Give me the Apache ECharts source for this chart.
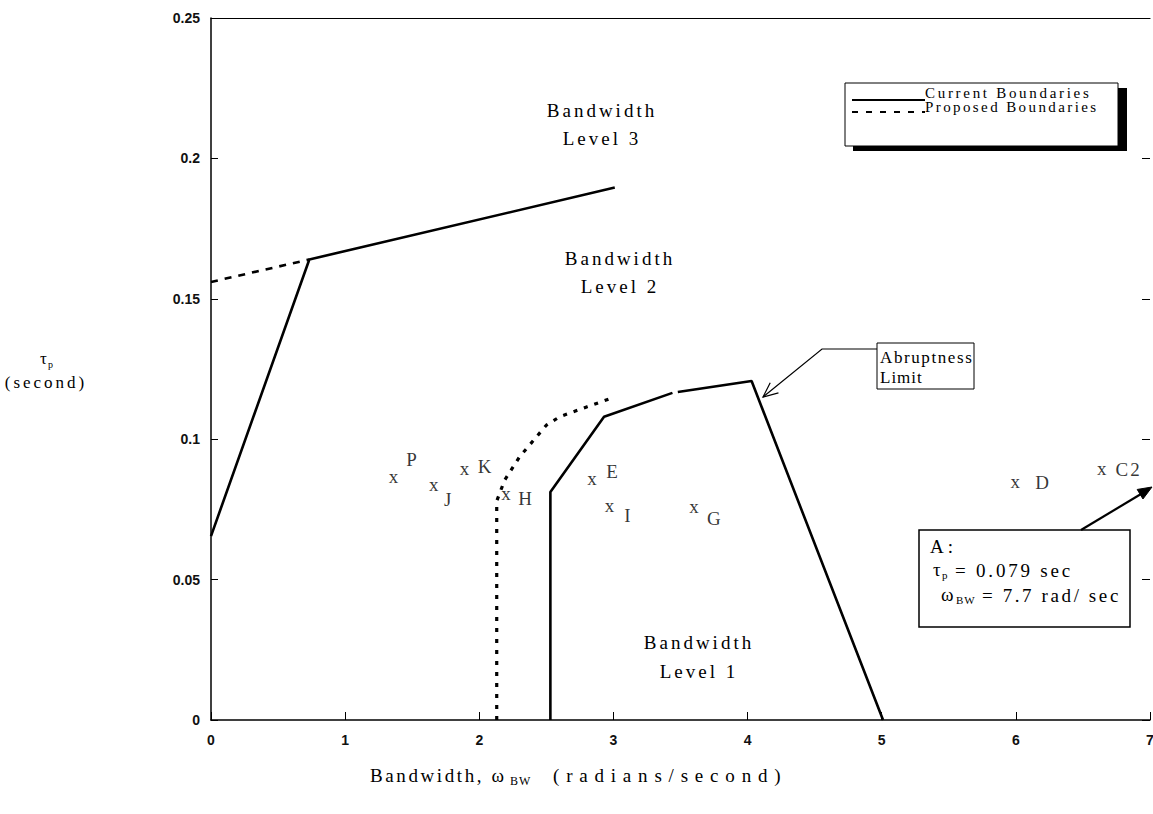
<!DOCTYPE html>
<html><head><meta charset="utf-8">
<script src="https://cdn.jsdelivr.net/npm/echarts@6/dist/echarts.min.js"></script>
<style>html,body{margin:0;padding:0;background:#fff;overflow:hidden}#c{width:1153px;height:814px}</style>
</head><body><div id="c"></div>
<script>
// ---- data ----
const xTickValues = [0, 1, 2, 3, 4, 5, 6, 7];
const yTickValues = [0, 0.05, 0.1, 0.15, 0.2, 0.25];
const currentUpper = [[0, 0.0655], [0.733, 0.164], [3.01, 0.1896]];
const proposedUpper = [[0, 0.156], [0.733, 0.164]];
const currentLevel1a = [[2.53, 0], [2.53, 0.0812], [2.93, 0.108], [3.44, 0.1165]];
const currentLevel1b = [[3.48, 0.1168], [4.03, 0.1207], [5.01, 0]];
const proposedLevel1 = [[2.13, 0], [2.13, 0.078], [2.19, 0.0855], [2.30, 0.0937], [2.50, 0.105], [2.60, 0.108], [2.80, 0.1115], [3.01, 0.115]];
const pointNames = ['P', 'J', 'K', 'H', 'E', 'I', 'G', 'D', 'C2'];
const pointX = [1.36, 1.66, 1.89, 2.20, 2.84, 2.97, 3.60, 5.995, 6.64];
const pointY = [0.0855, 0.0829, 0.0884, 0.0795, 0.0849, 0.0754, 0.075, 0.0837, 0.0884];

// ---- styling (label offsets in px) ----
const letterOffsets = [[18, -20], [14, 12], [20, -5], [19, 2], [20, -10], [18, 7], [20, 9], [27, -2], [27, -2]];
const SERIF = "'Liberation Serif', 'Times New Roman', serif";
const SANS = "'Liberation Sans', Arial, sans-serif";
const BLACK = '#000';
const spacingByText = {
  'Bandwidth': 3, 'Level 3': 3, 'Level 2': 3, 'Level 1': 3,
  'Current Boundaries': 2.7, 'Proposed Boundaries': 2.4,
  'Abruptness': 1.6, 'Limit': 1,
  'A:': 4, '= 0.079 sec': 2.8, '= 7.7 rad/ sec': 2.6,
  '(second)': 3, 'Bandwidth, ω': 2.6, '(radians/second)': 6.8, 'BW': 1, 'C2': 2
};

const chart = echarts.init(document.getElementById('c'), null, {renderer: 'svg'});

function lineSeries(data, type, width) {
  return {
    type: 'line', data: data, symbol: 'none', showSymbol: false, silent: true,
    animation: false, z: 3,
    lineStyle: {color: BLACK, width: width, type: type, cap: 'butt'}
  };
}

const option = {
  backgroundColor: '#fff',
  animation: false,
  grid: {left: 211, width: 939, top: 18, height: 702, containLabel: false, outerBoundsMode: 'none'},
  xAxis: [{
    type: 'value', position: 'bottom', min: xTickValues[0], max: xTickValues[xTickValues.length - 1], interval: 1,
    axisLine: {show: true, onZero: false, lineStyle: {color: BLACK, width: 1.5}},
    axisTick: {show: true, inside: true, length: 8, lineStyle: {color: BLACK, width: 1}},
    axisLabel: {show: true, margin: 13, color: '#111', fontFamily: SANS, fontSize: 14, fontWeight: 'bold'},
    splitLine: {show: false}
  }, {
    type: 'value', position: 'top', min: xTickValues[0], max: xTickValues[xTickValues.length - 1], interval: 1,
    axisLine: {show: true, onZero: false, lineStyle: {color: BLACK, width: 1.2}},
    axisTick: {show: false}, axisLabel: {show: false}, splitLine: {show: false}
  }],
  yAxis: [{
    type: 'value', position: 'left', min: yTickValues[0], max: yTickValues[yTickValues.length - 1], interval: 0.05,
    axisLine: {show: true, onZero: false, lineStyle: {color: BLACK, width: 1.5}},
    axisTick: {show: true, inside: true, length: 7, lineStyle: {color: BLACK, width: 1}},
    axisLabel: {show: true, margin: 11, color: '#111', fontFamily: SANS, fontSize: 14, fontWeight: 'bold',
      formatter: function (v) { return String(+v.toFixed(2)); }},
    splitLine: {show: false}
  }, {
    type: 'value', position: 'right', min: yTickValues[0], max: yTickValues[yTickValues.length - 1], interval: 0.05,
    axisLine: {show: false, onZero: false},
    axisTick: {show: true, inside: true, length: 8, lineStyle: {color: BLACK, width: 1}},
    axisLabel: {show: false}, splitLine: {show: false}
  }],
  series: [
    lineSeries(currentUpper, 'solid', 2.6),
    lineSeries(proposedUpper, [7, 7], 2.6),
    lineSeries(currentLevel1a, 'solid', 2.6),
    lineSeries(currentLevel1b, 'solid', 2.6),
    lineSeries(proposedLevel1, [4, 7], 3.2),
    {
      type: 'scatter', silent: true, symbolSize: 0, z: 4,
      data: pointX.map(function (x, i) { return [x, pointY[i]]; }),
      label: {show: true, position: 'inside', offset: [0, -3], formatter: 'x',
        color: BLACK, fontFamily: SERIF, fontSize: 19}
    },
    {
      type: 'scatter', silent: true, symbolSize: 0, z: 4,
      data: pointX.map(function (x, i) {
        return {name: pointNames[i], value: [x, pointY[i]], label: {offset: letterOffsets[i]}};
      }),
      label: {show: true, position: 'inside', formatter: '{b}',
        color: BLACK, fontFamily: SERIF, fontSize: 19}
    }
  ]
};
chart.setOption(option);

// ---- annotations ----
function txt(text, x, y, size, align) {
  return {
    type: 'text', silent: true, z: 10,
    style: {text: text, x: x, y: y, fill: BLACK, fontFamily: SERIF, fontSize: size,
      align: align || 'center', verticalAlign: 'middle'}
  };
}
function arrowHead(tip, from, len, ang) {
  const dx = from[0] - tip[0], dy = from[1] - tip[1];
  const d = Math.sqrt(dx * dx + dy * dy), ux = dx / d, uy = dy / d;
  const c = Math.cos(ang), s = Math.sin(ang);
  const p1 = [tip[0] + len * (ux * c - uy * s), tip[1] + len * (ux * s + uy * c)];
  const p2 = [tip[0] + len * (ux * c + uy * s), tip[1] + len * (-ux * s + uy * c)];
  return [p1, tip, p2];
}

const abrTip = [763, 397], abrCorner = [822, 349];
const aTip = [1152, 487], aFrom = [1081, 530];
const aHead = arrowHead(aTip, aFrom, 15, 0.38);

const graphics = [
  // region labels
  txt('Bandwidth', 602, 110, 19), txt('Level 3', 602, 138, 19),
  txt('Bandwidth', 620, 258, 19), txt('Level 2', 620, 286, 19),
  txt('Bandwidth', 699, 642, 19), txt('Level 1', 699, 671, 19),
  // legend with shadow
  {type: 'rect', silent: true, z: 8, shape: {x: 853, y: 88, width: 274, height: 63}, style: {fill: BLACK}},
  {type: 'rect', silent: true, z: 9, shape: {x: 845, y: 83, width: 273, height: 63}, style: {fill: '#fff', stroke: BLACK, lineWidth: 1}},
  {type: 'line', silent: true, z: 10, shape: {x1: 852, y1: 100, x2: 925, y2: 100}, style: {stroke: BLACK, lineWidth: 2}},
  {type: 'line', silent: true, z: 10, shape: {x1: 852, y1: 112, x2: 925, y2: 112}, style: {stroke: BLACK, lineWidth: 2, lineDash: [6, 8]}},
  txt('Current Boundaries', 925, 93, 15, 'left'),
  txt('Proposed Boundaries', 925, 107, 15, 'left'),
  // abruptness limit box + arrow
  {type: 'rect', silent: true, z: 9, shape: {x: 877, y: 343, width: 97, height: 46}, style: {fill: '#fff', stroke: BLACK, lineWidth: 1}},
  txt('Abruptness', 880, 357, 17, 'left'),
  txt('Limit', 880, 377, 17, 'left'),
  {type: 'polyline', silent: true, z: 10, shape: {points: [[877, 349], abrCorner, abrTip]}, style: {stroke: BLACK, lineWidth: 1.2, fill: null}},
  {type: 'polyline', silent: true, z: 10, shape: {points: arrowHead(abrTip, abrCorner, 16, 0.42)}, style: {stroke: BLACK, lineWidth: 1.2, fill: null}},
  // A box + arrow
  {type: 'rect', silent: true, z: 9, shape: {x: 919, y: 530, width: 211, height: 97}, style: {fill: '#fff', stroke: BLACK, lineWidth: 1.5}},
  txt('A:', 930, 546, 19, 'left'),
  txt('τ', 933, 569, 19, 'left'),
  txt('p', 942, 575, 11, 'left'),
  txt('= 0.079 sec', 955, 570, 19, 'left'),
  txt('ω', 941, 594, 19, 'left'),
  txt('BW', 956, 600, 11, 'left'),
  txt('= 7.7 rad/ sec', 982, 595, 19, 'left'),
  {type: 'line', silent: true, z: 10, shape: {x1: aFrom[0], y1: aFrom[1], x2: aTip[0] - 6, y2: aTip[1] + 4}, style: {stroke: BLACK, lineWidth: 2.2}},
  {type: 'polygon', silent: true, z: 10, shape: {points: aHead}, style: {fill: BLACK, stroke: BLACK, lineWidth: 1}},
  // axis titles
  txt('τ', 40, 358, 17, 'left'),
  txt('p', 48, 364, 10, 'left'),
  txt('(second)', 46, 382, 17),
  txt('Bandwidth, ω', 370, 775, 19, 'left'),
  txt('BW', 510, 781, 12, 'left'),
  txt('(radians/second)', 553, 775, 19, 'left')
];
chart.setOption({graphic: graphics});

function applySpacing() {
  document.querySelectorAll('#c svg text').forEach(function (t) {
    const s = spacingByText[t.textContent];
    if (s != null) t.setAttribute('letter-spacing', s);
  });
}
applySpacing();
chart.on('finished', applySpacing);
setTimeout(applySpacing, 50);
setTimeout(applySpacing, 300);
</script>
</body></html>
